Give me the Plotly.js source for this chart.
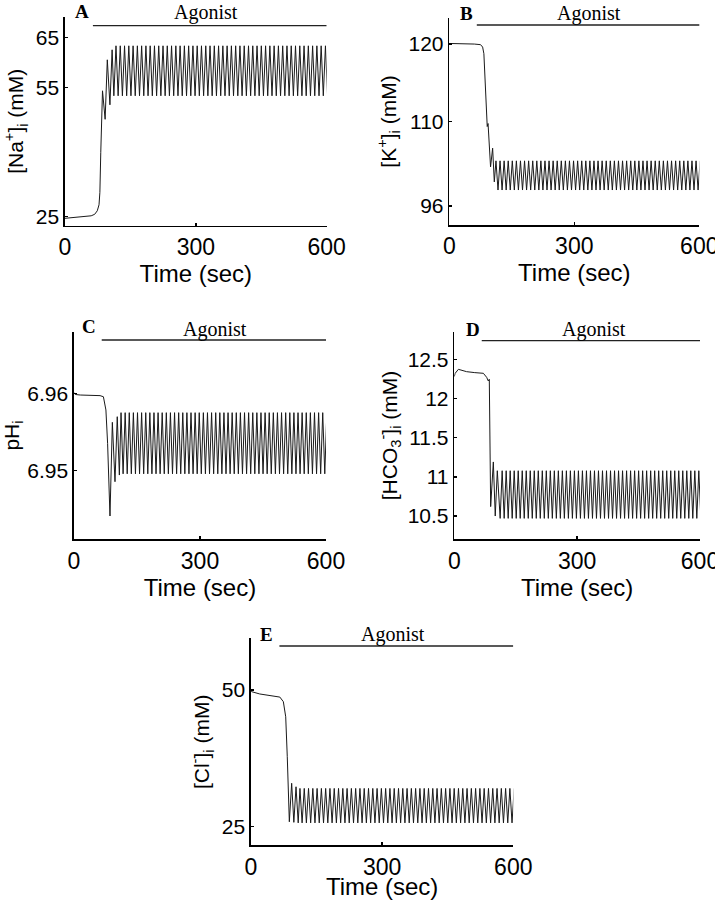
<!DOCTYPE html>
<html>
<head>
<meta charset="utf-8">
<script src="https://cdn.plot.ly/plotly-3.0.1.min.js"></script>
<style>
  html, body { margin: 0; padding: 0; background: #fff; }
  #chart { width: 715px; height: 900px; }
</style>
</head>
<body>
<div id="chart"></div>
<script>
// ---------- DATA ----------
// Time of agonist application (sec) and end of recording for each panel
const agonistStart = [64, 66, 66, 67, 65];
const agonistEnd   = [600, 618, 621, 624, 600];

// Transient (pre-oscillation) phase, panel A: [Na+]i
const tNa = [0, 20, 40, 60, 68, 74, 78, 80, 82, 84, 86, 92, 97, 103, 108];
const vNa = [28.8, 29.0, 29.1, 29.3, 29.6, 30.3, 31.5, 34, 42, 50, 54.3, 48.6, 60.5, 51.5, 62.5];

// Panel B: [K+]i
const tK = [0, 30, 60, 75, 80, 83, 85, 87, 89.5, 91, 93, 95.5, 99, 104, 108];
const vK = [123.0, 123.0, 122.9, 122.8, 122.4, 121.3, 118, 113.5, 110.0, 109.2, 109.7, 106, 102.5, 105.6, 100.0];

// Panel C: pHi
const tPH = [0, 3, 15, 40, 62, 70, 76, 80, 85.7, 91.3, 97.6, 103, 108];
const vPH = [6.9601, 6.95985, 6.95978, 6.95975, 6.9597, 6.95956, 6.95785, 6.95354, 6.94415, 6.95625, 6.94858, 6.95698, 6.94944];

// Panel D: [HCO3-]i
const tHCO3 = [0, 2, 10, 30, 50, 71, 79, 83, 85.5, 88.8, 95.3, 100, 105];
const vHCO3 = [12.28, 12.32, 12.372, 12.342, 12.33, 12.321, 12.27, 12.223, 12.245, 10.62, 11.19, 10.5, 11.078];

// Panel E: [Cl-]i
const tCl = [0, 1.5, 20, 50, 66, 74, 79.4, 83, 87.7, 93, 98, 103, 108];
const vCl = [49.8, 49.69, 49.27, 48.9, 48.7, 47.86, 45.1, 37.8, 25.9, 32.94, 25.8, 32.3, 25.7];

// Sustained oscillation phase: alternating extrema times (sec)
const tOsc = [
  112, 116.9, 121.8, 126.7, 131.6, 136.5, 141.4, 146.3, 151.2, 156.1,
  161, 165.9, 170.8, 175.7, 180.6, 185.5, 190.4, 195.3, 200.2, 205.1,
  210, 214.9, 219.8, 224.7, 229.6, 234.5, 239.4, 244.3, 249.2, 254.1,
  259, 263.9, 268.8, 273.7, 278.6, 283.5, 288.4, 293.3, 298.2, 303.1,
  308, 312.9, 317.8, 322.7, 327.6, 332.5, 337.4, 342.3, 347.2, 352.1,
  357, 361.9, 366.8, 371.7, 376.6, 381.5, 386.4, 391.3, 396.2, 401.1,
  406, 410.9, 415.8, 420.7, 425.6, 430.5, 435.4, 440.3, 445.2, 450.1,
  455, 459.9, 464.8, 469.7, 474.6, 479.5, 484.4, 489.3, 494.2, 499.1,
  504, 508.9, 513.8, 518.7, 523.6, 528.5, 533.4, 538.3, 543.2, 548.1,
  553, 557.9, 562.8, 567.7, 572.6, 577.5, 582.4, 587.3, 592.2, 597.1,
  602
];

const oscNa = [
  53.3,63.3,53.3,63.3,53.3,63.3,53.3,63.3,53.3,63.3,
  53.3,63.3,53.3,63.3,53.3,63.3,53.3,63.3,53.3,63.3,
  53.3,63.3,53.3,63.3,53.3,63.3,53.3,63.3,53.3,63.3,
  53.3,63.3,53.3,63.3,53.3,63.3,53.3,63.3,53.3,63.3,
  53.3,63.3,53.3,63.3,53.3,63.3,53.3,63.3,53.3,63.3,
  53.3,63.3,53.3,63.3,53.3,63.3,53.3,63.3,53.3,63.3,
  53.3,63.3,53.3,63.3,53.3,63.3,53.3,63.3,53.3,63.3,
  53.3,63.3,53.3,63.3,53.3,63.3,53.3,63.3,53.3,63.3,
  53.3,63.3,53.3,63.3,53.3,63.3,53.3,63.3,53.3,63.3,
  53.3,63.3,53.3,63.3,53.3,63.3,53.3,63.3,53.3,63.3,
  53.3
];

const oscK = [
  103.5,98.65,103.5,98.65,103.5,98.65,103.5,98.65,103.5,98.65,
  103.5,98.65,103.5,98.65,103.5,98.65,103.5,98.65,103.5,98.65,
  103.5,98.65,103.5,98.65,103.5,98.65,103.5,98.65,103.5,98.65,
  103.5,98.65,103.5,98.65,103.5,98.65,103.5,98.65,103.5,98.65,
  103.5,98.65,103.5,98.65,103.5,98.65,103.5,98.65,103.5,98.65,
  103.5,98.65,103.5,98.65,103.5,98.65,103.5,98.65,103.5,98.65,
  103.5,98.65,103.5,98.65,103.5,98.65,103.5,98.65,103.5,98.65,
  103.5,98.65,103.5,98.65,103.5,98.65,103.5,98.65,103.5,98.65,
  103.5,98.65,103.5,98.65,103.5,98.65,103.5,98.65,103.5,98.65,
  103.5,98.65,103.5,98.65,103.5,98.65,103.5,98.65,103.5,98.65,
  103.5
];

const oscPH = [
  6.9575,6.9496,6.9575,6.9496,6.9575,6.9496,6.9575,6.9496,6.9575,6.9496,
  6.9575,6.9496,6.9575,6.9496,6.9575,6.9496,6.9575,6.9496,6.9575,6.9496,
  6.9575,6.9496,6.9575,6.9496,6.9575,6.9496,6.9575,6.9496,6.9575,6.9496,
  6.9575,6.9496,6.9575,6.9496,6.9575,6.9496,6.9575,6.9496,6.9575,6.9496,
  6.9575,6.9496,6.9575,6.9496,6.9575,6.9496,6.9575,6.9496,6.9575,6.9496,
  6.9575,6.9496,6.9575,6.9496,6.9575,6.9496,6.9575,6.9496,6.9575,6.9496,
  6.9575,6.9496,6.9575,6.9496,6.9575,6.9496,6.9575,6.9496,6.9575,6.9496,
  6.9575,6.9496,6.9575,6.9496,6.9575,6.9496,6.9575,6.9496,6.9575,6.9496,
  6.9575,6.9496,6.9575,6.9496,6.9575,6.9496,6.9575,6.9496,6.9575,6.9496,
  6.9575,6.9496,6.9575,6.9496,6.9575,6.9496,6.9575,6.9496,6.9575,6.9496,
  6.9575
];

const oscHCO3 = [
  10.47,11.078,10.47,11.078,10.47,11.078,10.47,11.078,10.47,11.078,
  10.47,11.078,10.47,11.078,10.47,11.078,10.47,11.078,10.47,11.078,
  10.47,11.078,10.47,11.078,10.47,11.078,10.47,11.078,10.47,11.078,
  10.47,11.078,10.47,11.078,10.47,11.078,10.47,11.078,10.47,11.078,
  10.47,11.078,10.47,11.078,10.47,11.078,10.47,11.078,10.47,11.078,
  10.47,11.078,10.47,11.078,10.47,11.078,10.47,11.078,10.47,11.078,
  10.47,11.078,10.47,11.078,10.47,11.078,10.47,11.078,10.47,11.078,
  10.47,11.078,10.47,11.078,10.47,11.078,10.47,11.078,10.47,11.078,
  10.47,11.078,10.47,11.078,10.47,11.078,10.47,11.078,10.47,11.078,
  10.47,11.078,10.47,11.078,10.47,11.078,10.47,11.078,10.47,11.078,
  10.47
];

const oscCl = [
  32.0,25.7,32.0,25.7,32.0,25.7,32.0,25.7,32.0,25.7,
  32.0,25.7,32.0,25.7,32.0,25.7,32.0,25.7,32.0,25.7,
  32.0,25.7,32.0,25.7,32.0,25.7,32.0,25.7,32.0,25.7,
  32.0,25.7,32.0,25.7,32.0,25.7,32.0,25.7,32.0,25.7,
  32.0,25.7,32.0,25.7,32.0,25.7,32.0,25.7,32.0,25.7,
  32.0,25.7,32.0,25.7,32.0,25.7,32.0,25.7,32.0,25.7,
  32.0,25.7,32.0,25.7,32.0,25.7,32.0,25.7,32.0,25.7,
  32.0,25.7,32.0,25.7,32.0,25.7,32.0,25.7,32.0,25.7,
  32.0,25.7,32.0,25.7,32.0,25.7,32.0,25.7,32.0,25.7,
  32.0,25.7,32.0,25.7,32.0,25.7,32.0,25.7,32.0,25.7,
  32.0
];

// Tick labels
const xTickVals = [0, 300, 600];
const xTickText = ['0', '300', '600'];
const naTickVals = [29.16, 55, 65];      const naTickText = ['25', '55', '65'];
const kTickVals  = [96, 110, 122.9];     const kTickText  = ['96', '110', '120'];
const phTickVals = [6.95, 6.96];         const phTickText = ['6.95', '6.96'];
const hcoTickVals = [10.5, 11, 11.5, 12, 12.5]; const hcoTickText = ['10.5', '11', '11.5', '12', '12.5'];
const clTickVals = [25, 50];             const clTickText = ['25', '50'];

const panelLetters = ['A', 'B', 'C', 'D', 'E'];
const yTitles = [
  '[Na<sup>+</sup>]<sub>i</sub> (mM)',
  '[K<sup>+</sup>]<sub>i</sub> (mM)',
  'pH<sub>i</sub>',
  '[HCO<sub>3</sub><sup>-</sup>]<sub>i</sub> (mM)',
  '[Cl<sup>-</sup>]<sub>i</sub> (mM)'
];
const xTitle = 'Time (sec)';
const agonistLabel = 'Agonist';

// ---------- FIGURE ----------
const W = 715, H = 900;
const px = v => v / W;
const py = v => 1 - v / H;

const lineStyle = { color: '#1a1a1a', width: 1 };
const series = [
  [tNa, vNa, oscNa],
  [tK, vK, oscK],
  [tPH, vPH, oscPH],
  [tHCO3, vHCO3, oscHCO3],
  [tCl, vCl, oscCl]
];
const axSuffix = ['', '2', '3', '4', '5'];

const traces = series.map((s, i) => ({
  type: 'scatter', mode: 'lines',
  x: s[0].concat(tOsc), y: s[1].concat(s[2]),
  xaxis: 'x' + axSuffix[i], yaxis: 'y' + axSuffix[i],
  line: lineStyle, hoverinfo: 'skip'
}));

// pixel boxes of each plot area: [left, right, top, bottom]
const boxes = [
  [65, 326.7, 17, 225.5],
  [449.3, 699.3, 18, 225],
  [74, 326, 331.7, 539.3],
  [454.3, 700, 331.7, 539.3],
  [251, 513.3, 638.3, 845.3]
];
const yRanges = [[27.36, 69.06], [92.84, 127.23], [6.94114, 6.96796], [10.203, 12.852], [21.6, 59.45]];
const yTV = [naTickVals, kTickVals, phTickVals, hcoTickVals, clTickVals];
const yTT = [naTickText, kTickText, phTickText, hcoTickText, clTickText];
const yStandoff = [6, 6, 12, 4, 6];
const fam = 'Liberation Sans, Arial, sans-serif';

const layout = {
  width: W, height: H,
  margin: { l: 0, r: 0, t: 0, b: 0 },
  paper_bgcolor: '#ffffff', plot_bgcolor: 'rgba(0,0,0,0)',
  showlegend: false,
  font: { family: fam, color: '#000' },
  shapes: [], annotations: []
};

boxes.forEach((b, i) => {
  const s = axSuffix[i];
  layout['xaxis' + s] = {
    domain: [px(b[0]), px(b[1])], anchor: 'y' + s,
    range: [0, 600], tickmode: 'array', tickvals: xTickVals, ticktext: xTickText,
    showgrid: false, zeroline: false, showline: true, linecolor: '#000', linewidth: 1.6,
    ticks: 'inside', ticklen: 3, tickwidth: 1.4, tickcolor: '#000',
    ticklabeloverflow: 'allow',
    tickfont: { size: 23, family: fam, color: '#000' },
    title: { text: xTitle, font: { size: 24, family: fam, color: '#000' }, standoff: 2 },
    fixedrange: true
  };
  layout['yaxis' + s] = {
    domain: [py(b[3]), py(b[2])], anchor: 'x' + s,
    range: yRanges[i], tickmode: 'array', tickvals: yTV[i], ticktext: yTT[i],
    showgrid: false, zeroline: false, showline: true, linecolor: '#000', linewidth: 1.6,
    ticks: 'inside', ticklen: 3, tickwidth: 1.4, tickcolor: '#000',
    tickfont: { size: 21, family: fam, color: '#000' },
    title: { text: yTitles[i], font: { size: 21, family: fam, color: '#000' }, standoff: yStandoff[i] },
    fixedrange: true
  };
});

// Agonist bars, labels, panel letters
const barY = [25.7, 25, 340, 340.7, 646];
const labelPos = [[205.8, 12.5], [588.7, 13], [214.5, 329], [594, 329], [392.5, 634.5]];
const letterPos = [[81.7, 12], [466.7, 13.3], [89, 327], [472.5, 329], [266.7, 634]];

boxes.forEach((b, i) => {
  const s = axSuffix[i];
  layout.shapes.push({
    type: 'line', xref: 'x' + s, yref: 'paper',
    x0: agonistStart[i], x1: agonistEnd[i], y0: py(barY[i]), y1: py(barY[i]),
    line: { color: '#222', width: 1.3 }
  });
  layout.annotations.push({
    xref: 'paper', yref: 'paper', x: px(labelPos[i][0]), y: py(labelPos[i][1]),
    xanchor: 'center', yanchor: 'middle', showarrow: false, text: agonistLabel,
    font: { family: 'Liberation Serif, Times New Roman, serif', size: 20, color: '#000' }
  });
  layout.annotations.push({
    xref: 'paper', yref: 'paper', x: px(letterPos[i][0]), y: py(letterPos[i][1]),
    xanchor: 'center', yanchor: 'middle', showarrow: false, text: '<b>' + panelLetters[i] + '</b>',
    font: { family: 'Liberation Serif, Times New Roman, serif', size: 19, color: '#000' }
  });
});

Plotly.newPlot('chart', traces, layout, { staticPlot: true, displayModeBar: false });
</script>
</body>
</html>
